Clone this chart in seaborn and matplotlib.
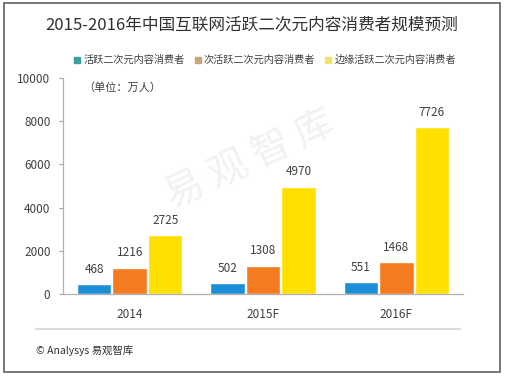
import matplotlib
matplotlib.use("Agg")
import matplotlib.pyplot as plt
import seaborn as sns
import pandas as pd
from matplotlib.patches import Rectangle
from matplotlib.lines import Line2D

years = ["2014", "2015F", "2016F"]
series_names = ["活跃二次元内容消费者", "次活跃二次元内容消费者", "边缘活跃二次元内容消费者"]
active = [468, 502, 551]
semi_active = [1216, 1308, 1468]
marginal = [2725, 4970, 7726]
bar_colors = ["#1a8fd8", "#f57a20", "#ffe000"]
legend_colors = ["#3a9fa3", "#c9a57c", "#f0e26a"]
yticks = [0, 2000, 4000, 6000, 8000, 10000]

rows = []
for name, vals in zip(series_names, [active, semi_active, marginal]):
    for y, v in zip(years, vals):
        rows.append({"year": y, "series": name, "value": v})
df = pd.DataFrame(rows)

sns.set_theme(style="white")
plt.rcParams["font.family"] = ["Noto Sans CJK SC", "DejaVu Sans"]

fig = plt.figure(figsize=(5.06, 3.77), dpi=100)
ax = fig.add_axes([63/506, 1-294/377, 400/506, (294-78)/377])

sns.barplot(data=df, x="year", y="value", hue="series", hue_order=series_names,
            palette=bar_colors, width=0.8, gap=0.03, ax=ax, legend=False,
            saturation=1, errorbar=None)

ax.set_ylim(0, 10000)
ax.set_yticks(yticks)
ax.set_yticklabels([str(t) for t in yticks], fontsize=8.5, color="#404040")
ax.tick_params(axis="y", length=3, width=0.8, color="#a0a0a0", direction="out", pad=6, left=True)
ax.tick_params(axis="x", length=0, labelsize=8.5, labelcolor="#404040", pad=10)
ax.set_xlabel("")
ax.set_ylabel("")
for s in ["top", "right"]:
    ax.spines[s].set_visible(False)
for s in ["left", "bottom"]:
    ax.spines[s].set_color("#b0b0b0")
    ax.spines[s].set_linewidth(0.9)

for cont in ax.containers:
    ax.bar_label(cont, fmt="%d", padding=6, fontsize=8.5, color="#404040")

ax.text(0.05, 0.955, "（单位：万人）", transform=ax.transAxes, fontsize=8,
        color="#404040", va="center", ha="left")

# watermark
fig.text(250/506, 1-160/377, "易 观 智 库", fontsize=28, color="#ececec",
         rotation=25, ha="center", va="center", zorder=0, alpha=0.7)

handles = [Line2D([], [], marker="s", linestyle="", markersize=4,
                  markerfacecolor=c, markeredgecolor=c) for c in legend_colors]
fig.legend(handles, series_names, loc="center", bbox_to_anchor=(265/506, 1-60/377),
           ncol=3, frameon=False, fontsize=7.3, handlelength=0.6, handletextpad=0.3,
           columnspacing=1.0, labelcolor="#404040")

fig.text(252/506, 1-25/377, "2015-2016年中国互联网活跃二次元内容消费者规模预测",
         fontsize=12, color="#303030", ha="center", va="center")

fig.add_artist(Line2D([36/506, 460/506], [1-329/377, 1-329/377], color="#d9d9d9", lw=1.5))
fig.text(36/506, 1-351/377, "© Analysys 易观智库", fontsize=7.5, color="#303030",
         ha="left", va="center")

fig.add_artist(Rectangle((4/506, 1-372/377), 496/506, 369/377, fill=False,
                         edgecolor="#606060", lw=1.2, transform=fig.transFigure))

fig.savefig("out.png", dpi=100)
